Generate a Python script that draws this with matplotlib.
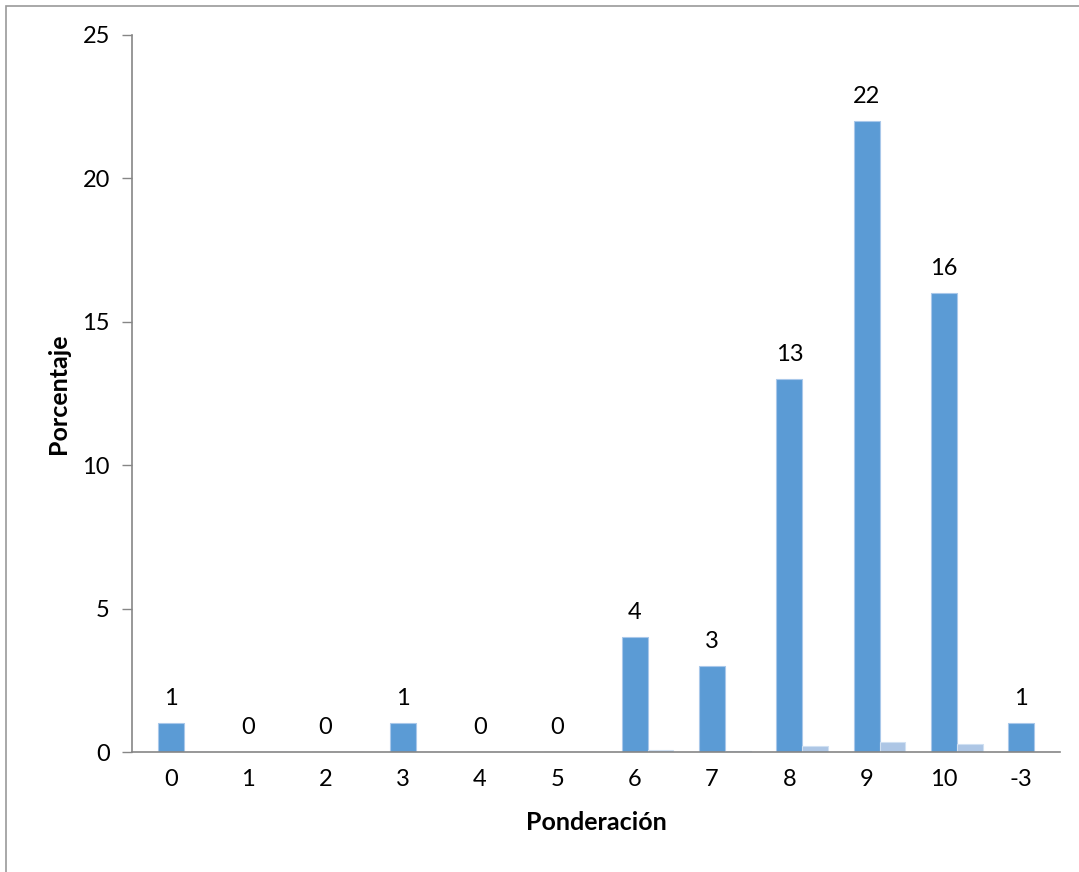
import numpy as np
import matplotlib
matplotlib.use("Agg")
import matplotlib.pyplot as plt
from matplotlib.patches import Rectangle

plt.rcParams['font.family'] = ['Lato', 'DejaVu Sans']

categorias = ['0', '1', '2', '3', '4', '5', '6', '7', '8', '9', '10', '-3']
porcentaje = [1, 0, 0, 1, 0, 0, 4, 3, 13, 22, 16, 1]
proporcion = [0.016, 0, 0, 0.016, 0, 0, 0.066, 0.049, 0.213, 0.361, 0.262, 0.016]

fig = plt.figure(figsize=(10.79, 8.72), dpi=100)
ax = fig.add_axes([132 / 1079, 1 - 752 / 872, (1060 - 132) / 1079, (752 - 35) / 872])

x = np.arange(len(categorias))
w = 0.333
barras = ax.bar(x, porcentaje, w, color='#5b9bd5', edgecolor='#a9c8ea', linewidth=0.8)
ax.bar(x + w, proporcion, w, color='#adc6e5', edgecolor='#d0e0f2', linewidth=0.8)

for b, v in zip(barras, porcentaje):
    ax.annotate(str(v), (b.get_x() + b.get_width() / 2, v), xytext=(0, 10),
                textcoords='offset points', ha='center', va='bottom', fontsize=17)

ax.set_xlim(-0.5, len(categorias) - 0.5)
ax.set_ylim(0, 25)
ax.set_yticks([0, 5, 10, 15, 20, 25])
ax.set_xticks(x)
ax.set_xticklabels(categorias)
ax.tick_params(axis='x', length=0, labelsize=17, pad=12)
ax.tick_params(axis='y', length=7, width=1, color='#868686', labelsize=17, pad=9)

for s in ['top', 'right']:
    ax.spines[s].set_visible(False)
for s in ['left', 'bottom']:
    ax.spines[s].set_color('#868686')
    ax.spines[s].set_linewidth(1.2)

ax.set_xlabel('Ponderación', fontsize=18, fontweight='bold', labelpad=15)
ax.set_ylabel('Porcentaje', fontsize=18, fontweight='bold', labelpad=9)

# marco gris del gráfico, abierto por la derecha y abajo
fig.patches.append(Rectangle((6 / 1079, -0.05), 1.1, 1 - 6 / 872 + 0.05,
                             transform=fig.transFigure, fill=False,
                             edgecolor='#9a9a9a', linewidth=1.2))

fig.savefig('out.png', dpi=100)
